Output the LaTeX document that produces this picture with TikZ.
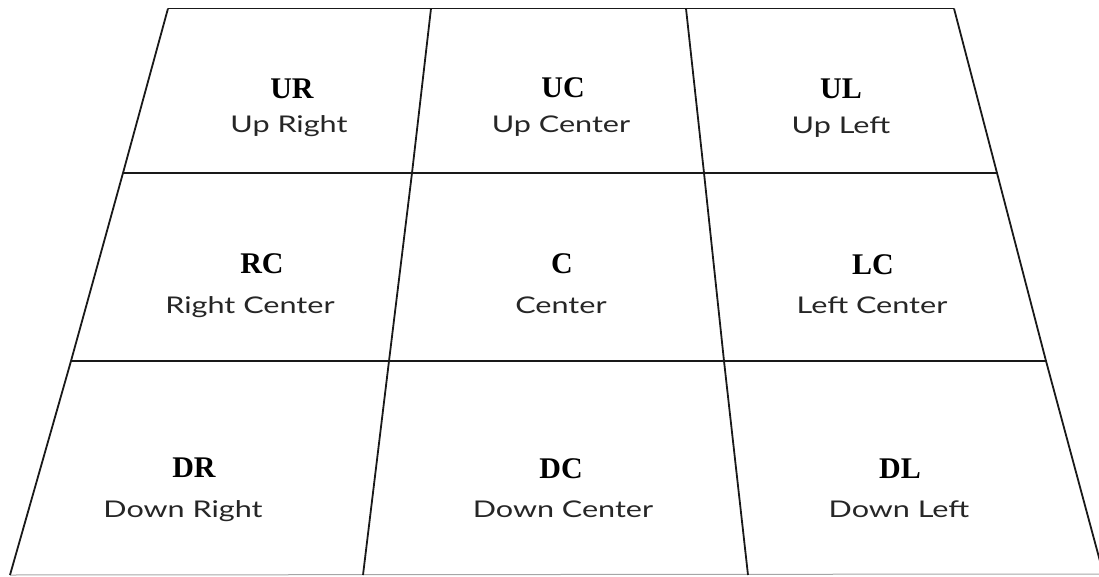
\documentclass[tikz,border=0pt]{standalone}
\usepackage{fontspec}
\setmainfont{Liberation Serif}
\newfontfamily\subfont[FakeStretch=1.33]{Lato}
\begin{document}
\begin{tikzpicture}[x=1pt,y=-1pt,
  gridline/.style={line width=1.8pt, black!90},
  bottomline/.style={line width=1pt, black!35},
  ttl/.style={font=\fontsize{30}{30}\selectfont\bfseries, inner sep=0pt, anchor=base},
  sub/.style={font=\subfont\fontsize{23}{23}\selectfont, text=black!85, inner sep=0pt, anchor=base}]
\useasboundingbox (0,0) rectangle (1099,577);
\clip (0,0) rectangle (1099,577);
% grid corner coordinates
\coordinate (L0) at (168,8.5);  \coordinate (A0) at (431,8.5);
\coordinate (B0) at (686,8.5);  \coordinate (R0) at (954,8.5);
\coordinate (L1) at (123,173);  \coordinate (A1) at (412,173);
\coordinate (B1) at (704,173);  \coordinate (R1) at (997,173);
\coordinate (L2) at (71,361);   \coordinate (A2) at (389,361);
\coordinate (B2) at (724,361);  \coordinate (R2) at (1046,361);
\coordinate (L3) at (10,575);   \coordinate (A3) at (363,575);
\coordinate (B3) at (748,575);  \coordinate (R3) at (1104,576);
\coordinate (E3) at (1099,574);
% gray bottom line
\draw[bottomline] (L3) -- (E3);
% horizontal lines
\draw[gridline] (L0) -- (R0);
\draw[gridline] (L1) -- (R1);
\draw[gridline] (L2) -- (R2);
% slanted lines
\draw[gridline] (L0) -- (L1) -- (L2) -- (L3);
\draw[gridline] (A0) -- (A1) -- (A2) -- (A3);
\draw[gridline] (B0) -- (B1) -- (B2) -- (B3);
\draw[gridline] (R0) -- (R1) -- (R2) -- (R3);
% labels
\node[ttl] (ur) at (292,99) {UR};
\node[sub] (urs) at (289,133) {Up Right};
\node[ttl] (uc) at (563,98) {UC};
\node[sub] (ucs) at (561,133) {Up Center};
\node[ttl] (ul) at (841,99) {UL};
\node[sub] (uls) at (841,134) {Up Left};
\node[ttl] (rc) at (262,273) {RC};
\node[sub] (rcs) at (250,313) {Right Center};
\node[ttl] (c) at (562,273) {C};
\node[sub] (cs) at (561,313) {Center};
\node[ttl] (lc) at (873,274) {LC};
\node[sub] (lcs) at (872,313) {Left Center};
\node[ttl] (dr) at (194,477) {DR};
\node[sub] (drs) at (183,517) {Down Right};
\node[ttl] (dc) at (561,478) {DC};
\node[sub] (dcs) at (563,517) {Down Center};
\node[ttl] (dl) at (900,478) {DL};
\node[sub] (dls) at (899,517) {Down Left};
\end{tikzpicture}
\end{document}
